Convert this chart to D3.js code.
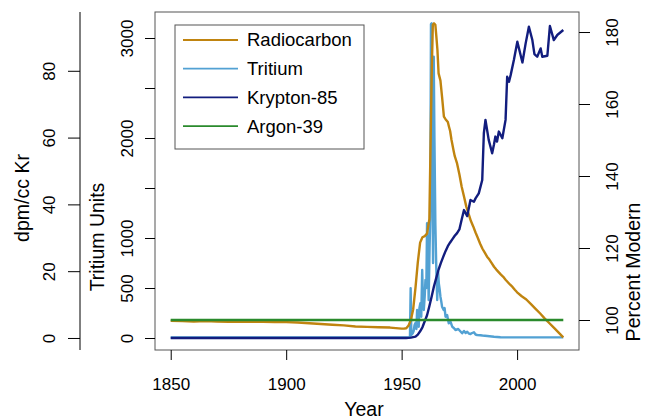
<!DOCTYPE html>
<html>
<head>
<meta charset="utf-8">
<script src="https://cdn.jsdelivr.net/npm/d3@7"></script>
<style>
  body { margin: 0; background: #fff; }
  svg text { font-family: "Liberation Sans", Arial, Helvetica, sans-serif; fill: #000; }
</style>
</head>
<body>
<div id="chart"></div>
<script>
// ---- data ----
const radiocarbonYears = [1850, 1855, 1860, 1865, 1870, 1875, 1880, 1885, 1890, 1895, 1900, 1905, 1910, 1915, 1920, 1925, 1930, 1935, 1940, 1945, 1950, 1951, 1952, 1953, 1954, 1955, 1956, 1957, 1958, 1959, 1960, 1961, 1962, 1963, 1963.5, 1964, 1964.6, 1965, 1965.5, 1966, 1966.8, 1967.5, 1968.3, 1969, 1970, 1970.5, 1971, 1971.6, 1972.5, 1973, 1974, 1975, 1976, 1977, 1978, 1979, 1980, 1981, 1982, 1983, 1984, 1985, 1986, 1987, 1988, 1989, 1990, 1991, 1992, 1993, 1994, 1995, 1996, 1997, 1998, 1999, 2000, 2002, 2004, 2006, 2008, 2010, 2012, 2014, 2016, 2018, 2020];
const radiocarbonValues = [99.8, 99.7, 99.6, 99.7, 99.6, 99.5, 99.6, 99.5, 99.5, 99.4, 99.4, 99.3, 99.1, 98.9, 98.7, 98.5, 98.2, 98.1, 98.0, 97.9, 97.6, 97.6, 97.7, 98.5, 100.0, 103, 109, 116, 121.5, 123.0, 123.3, 124.0, 128, 168, 182, 182.4, 182.0, 179, 175, 168.5, 166.5, 162, 156.5, 155.8, 155, 153.7, 152.5, 150, 147, 145.5, 143.5, 140.5, 137, 134.3, 131.5, 129.5, 127.5, 126, 124.3, 122.8, 121.2, 119.8, 118.7, 117.6, 116.8, 115.8, 114.8, 114, 113.3, 112.6, 112, 111.2, 110.5, 109.8, 109.2, 108.4, 107.7, 106.6, 105.7, 104.4, 103.1, 101.8, 100.4, 99.1, 97.8, 96.5, 95.2];

const tritiumYears = [1850, 1952.5, 1953.6, 1953.9, 1954.2, 1954.8, 1955.2, 1955.6, 1956, 1956.4, 1956.7, 1957.1, 1957.4, 1957.7, 1958.1, 1958.5, 1958.9, 1959.2, 1959.6, 1960, 1960.3, 1960.7, 1961, 1961.4, 1961.7, 1962.1, 1962.4, 1962.7, 1963.0, 1963.3, 1963.6, 1963.9, 1964.2, 1964.6, 1965, 1965.4, 1965.8, 1966.1, 1966.5, 1966.8, 1967.2, 1967.5, 1968.2, 1968.6, 1969, 1969.7, 1970.1, 1970.4, 1971.2, 1971.9, 1972.6, 1973.3, 1974.5, 1975.3, 1976.2, 1977, 1977.7, 1978.4, 1979.1, 1979.8, 1980.5, 1981.3, 1982, 1982.7, 1984, 1985, 1987.1, 1990, 1992.8, 2000, 2020];
const tritiumValues = [5, 5, 8, 497, 30, 47, 70, 130, 150, 90, 280, 130, 113, 300, 347, 213, 680, 420, 280, 420, 580, 500, 1147, 880, 380, 900, 1213, 3140, 3147, 1800, 750, 2813, 2000, 1147, 700, 380, 663, 547, 480, 413, 360, 313, 280, 300, 213, 230, 180, 147, 160, 113, 100, 80, 90, 70, 47, 70, 50, 63, 45, 40, 50, 57, 35, 30, 28, 25, 20, 12, 7, 6, 6];

const kryptonYears = [1850, 1952, 1954, 1956, 1957, 1958, 1959, 1960, 1961, 1962, 1963, 1964, 1965, 1966, 1967, 1968, 1969, 1970, 1971, 1972, 1973, 1974, 1975, 1976, 1977, 1978.4, 1979.8, 1981.3, 1982, 1983.4, 1984.9, 1985.6, 1986.3, 1987.7, 1989.2, 1990, 1990.6, 1991.3, 1992.1, 1993.6, 1995, 1995.7, 1996.5, 1997.2, 1998.6, 2000.1, 2002.3, 2003.7, 2005.1, 2006.6, 2007.5, 2008.7, 2010.2, 2010.9, 2013.1, 2014.2, 2015.9, 2017.4, 2020];
const kryptonValues = [0, 0, 0.1, 0.4, 1, 2, 3.2, 5, 6.8, 9.5, 12.4, 15.5, 18, 20.5, 22.5, 24.3, 26, 27.5, 28.6, 29.6, 30.6, 31.4, 32.5, 35.5, 38.3, 36.5, 41.3, 40.8, 41.8, 43.3, 47.3, 61.3, 65.3, 59.3, 55.3, 58, 60.3, 58.8, 61.8, 59.8, 65.3, 78.2, 76.7, 78.7, 83.2, 88.7, 82.5, 88.2, 93.2, 89.2, 85, 84.2, 86.7, 84.2, 84.5, 93.4, 89.2, 90.7, 92.2];

const argonYears = [1850, 2020];
const argonValues = [100, 100];

const seriesNames = ["Radiocarbon", "Tritium", "Krypton-85", "Argon-39"];
const seriesColors = ["#c0840f", "#52a1d3", "#121d7e", "#2a8a2c"];

const yearTicks = [1850, 1900, 1950, 2000];
const tritiumTicks = [0, 500, 1000, 1500, 2000, 2500, 3000];
const tritiumLabels = [0, 500, 1000, 2000, 3000];
const kryptonTicks = [0, 20, 40, 60, 80];
const percentTicks = [100, 120, 140, 160, 180];

// ---- chart ----
const W = 646, H = 419;
const margin = { top: 12, right: 67, bottom: 69, left: 155 };
const width = W - margin.left - margin.right;
const height = H - margin.top - margin.bottom;

const svg = d3.select("#chart").append("svg")
  .attr("width", W)
  .attr("height", H);

const g = svg.append("g")
  .attr("transform", `translate(${margin.left}, ${margin.top})`);

// scales (R style 4% padding on the data ranges)
const x = d3.scaleLinear().domain([1843.2, 2026.8]).range([0, width]);
const yTritium = d3.scaleLinear().domain([-120, 3260]).range([height, 0]);
const yKrypton = d3.scaleLinear().domain([-3.6, 97.6]).range([height, 0]);
const yPercent = d3.scaleLinear().domain([91.67, 185.56]).range([height, 0]);

function series(years, values) {
  return years.map((yr, i) => [yr, values[i]]);
}

function drawLine(data, yScale, color) {
  g.append("path")
    .datum(data)
    .attr("fill", "none")
    .attr("stroke", color)
    .attr("stroke-width", 2.4)
    .attr("stroke-linejoin", "round")
    .attr("d", d3.line().x((d) => x(d[0])).y((d) => yScale(d[1])));
}

drawLine(series(tritiumYears, tritiumValues), yTritium, seriesColors[1]);
drawLine(series(radiocarbonYears, radiocarbonValues), yPercent, seriesColors[0]);
drawLine(series(kryptonYears, kryptonValues), yKrypton, seriesColors[2]);
drawLine(series(argonYears, argonValues), yPercent, seriesColors[3]);

// plot frame
g.append("rect")
  .attr("width", width)
  .attr("height", height)
  .attr("fill", "none")
  .attr("stroke", "#555")
  .attr("stroke-width", 1);

function styleAxis(sel) {
  sel.select(".domain").remove();
  sel.selectAll(".tick line").attr("stroke", "#000");
  sel.selectAll(".tick text").style("font-size", "17px");
}

// bottom year axis
const xAxis = g.append("g")
  .attr("transform", `translate(0, ${height})`)
  .call(d3.axisBottom(x).tickValues(yearTicks).tickSize(10).tickFormat(d3.format("d")));
styleAxis(xAxis);
xAxis.selectAll(".tick text").attr("y", 40).attr("dy", 0);

// tritium axis (inner left)
const tAxis = g.append("g")
  .call(d3.axisLeft(yTritium).tickValues(tritiumTicks).tickSize(10)
    .tickFormat((d) => (tritiumLabels.includes(d) ? d : "")));
styleAxis(tAxis);
tAxis.selectAll(".tick text")
  .attr("transform", "rotate(-90)")
  .attr("x", 0).attr("y", -22).attr("dy", 0)
  .attr("text-anchor", "middle");

// krypton axis (outer left)
const kAxis = g.append("g")
  .attr("transform", `translate(${80 - margin.left}, 0)`)
  .call(d3.axisLeft(yKrypton).tickValues(kryptonTicks).tickSize(12));
styleAxis(kAxis);
kAxis.append("line")
  .attr("y1", 0).attr("y2", height)
  .attr("stroke", "#000");
kAxis.selectAll(".tick text")
  .attr("transform", "rotate(-90)")
  .attr("x", 0).attr("y", -25).attr("dy", 0)
  .attr("text-anchor", "middle");

// percent modern axis (right)
const pAxis = g.append("g")
  .attr("transform", `translate(${width}, 0)`)
  .call(d3.axisRight(yPercent).tickValues(percentTicks).tickSize(11));
styleAxis(pAxis);
pAxis.selectAll(".tick text")
  .attr("transform", "rotate(-90)")
  .attr("x", 0).attr("y", 39).attr("dy", 0)
  .attr("text-anchor", "middle");

// axis titles
svg.append("text")
  .attr("x", 364).attr("y", 416)
  .attr("text-anchor", "middle")
  .style("font-size", "19.5px")
  .text("Year");

svg.append("text")
  .attr("transform", "translate(104, 237) rotate(-90)")
  .attr("text-anchor", "middle")
  .style("font-size", "19.5px")
  .text("Tritium Units");

svg.append("text")
  .attr("transform", "translate(29, 198) rotate(-90)")
  .attr("text-anchor", "middle")
  .style("font-size", "19.5px")
  .text("dpm/cc Kr");

svg.append("text")
  .attr("transform", "translate(640, 272) rotate(-90)")
  .attr("text-anchor", "middle")
  .style("font-size", "19.5px")
  .text("Percent Modern");

// legend
const legend = svg.append("g").attr("transform", "translate(175, 25)");
legend.append("rect")
  .attr("width", 189).attr("height", 124)
  .attr("fill", "#fff")
  .attr("stroke", "#555");

const rows = legend.selectAll(".row")
  .data(seriesNames)
  .join("g")
  .attr("class", "row")
  .attr("transform", (d, i) => `translate(0, ${15 + i * 28.7})`);

rows.append("line")
  .attr("x1", 8).attr("x2", 63)
  .attr("stroke", (d, i) => seriesColors[i])
  .attr("stroke-width", 1.8);

rows.append("text")
  .attr("x", 72).attr("dy", "0.35em")
  .style("font-size", "18.5px")
  .text((d) => d);
</script>
</body>
</html>
